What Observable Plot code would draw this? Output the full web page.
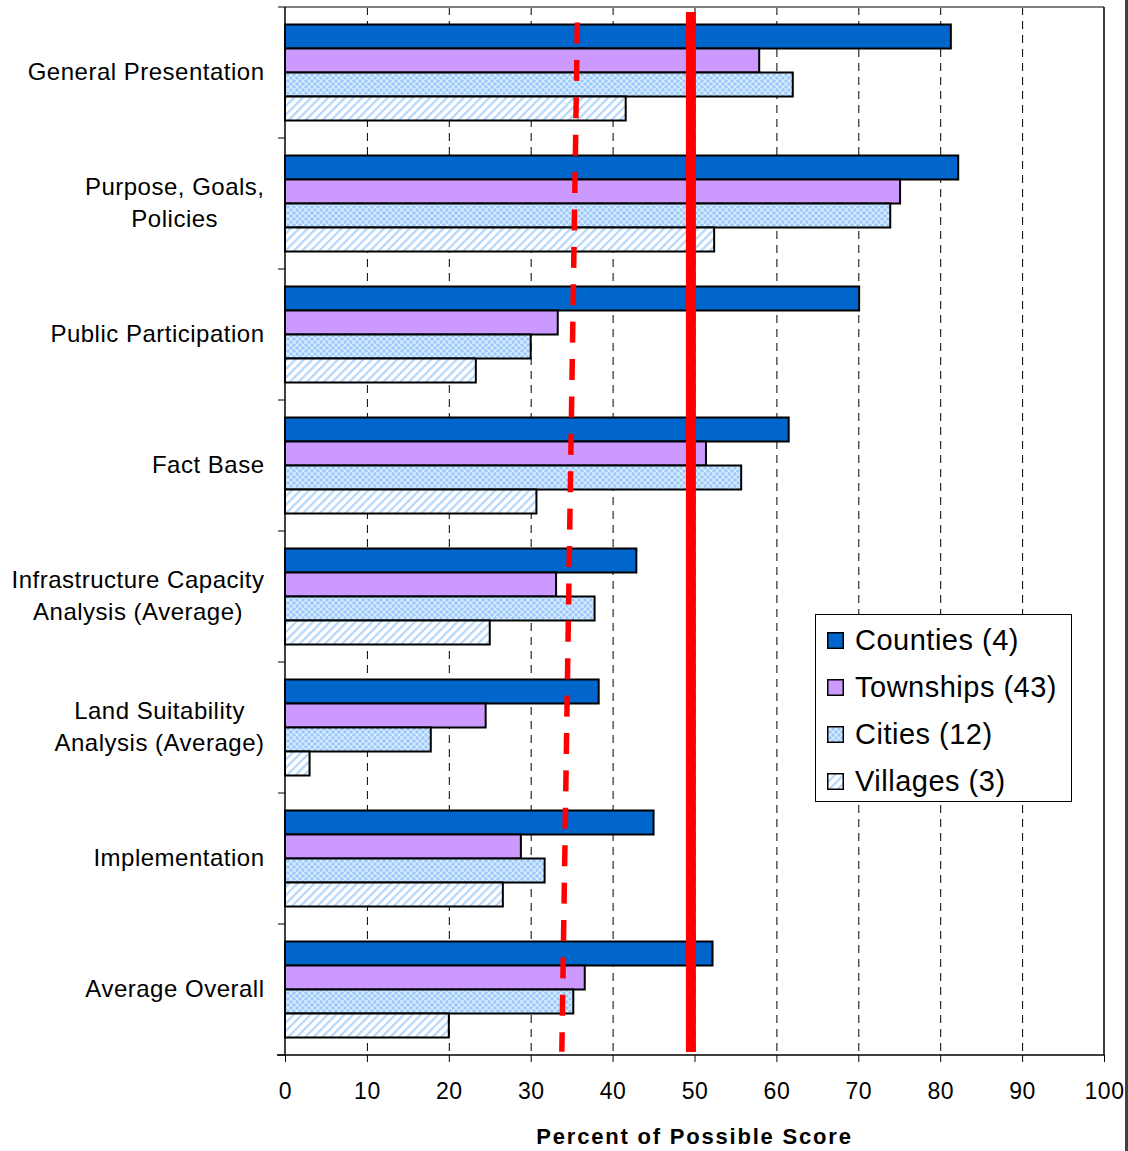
<!DOCTYPE html>
<html>
<head>
<meta charset="utf-8">
<script src="https://cdn.jsdelivr.net/npm/d3@7"></script>
<script src="https://cdn.jsdelivr.net/npm/@observablehq/plot@0.6"></script>
<style>
  body { margin: 0; background: #fff; }
  #wrap { position: relative; width: 1128px; height: 1151px; overflow: hidden; font-family: "Liberation Sans", Arial, sans-serif; color: #000; }
  #chart svg text { letter-spacing: 0.5px; }
  #xtitle { position: absolute; left: 285px; width: 819px; top: 1122px; text-align: center; font-weight: bold; font-size: 22px; letter-spacing: 1.8px; line-height: 30px; }
  #legend { position: absolute; left: 815px; top: 614px; width: 255px; height: 186px; border: 1px solid #000; background: #fff; }
  .item { position: absolute; left: 11px; height: 30px; display: flex; align-items: center; font-size: 29px; letter-spacing: 0.5px; white-space: nowrap; }
  .item svg { margin-right: 11px; flex: none; }
  #edge { position: absolute; left: 1125px; top: 0; width: 3px; height: 1151px; background: #404040; }
</style>
</head>
<body>
<svg width="0" height="0" style="position:absolute">
  <defs>
    <pattern id="pCities" width="6" height="6" patternUnits="userSpaceOnUse">
      <rect width="6" height="6" fill="#9ccafc"></rect>
      <path d="M0,0L6,6M6,0L0,6" stroke="#ffffff" stroke-width="1.1" stroke-opacity="0.7"></path>
    </pattern>
    <pattern id="pVillages" width="6" height="6" patternUnits="userSpaceOnUse" patternTransform="rotate(45)">
      <rect width="6" height="6" fill="#ffffff"></rect>
      <rect width="2.2" height="6" fill="#b3d6fb"></rect>
    </pattern>
  </defs>
</svg>
<div id="wrap">
  <div id="chart"></div>
  <div id="xtitle">Percent of Possible Score</div>
  <div id="legend"></div>
  <div id="edge"></div>
</div>
<script>
// ---- data ----
const categories = [
  "General Presentation",
  "Purpose, Goals,\nPolicies",
  "Public Participation",
  "Fact Base",
  "Infrastructure Capacity\nAnalysis (Average)",
  "Land Suitability\nAnalysis (Average)",
  "Implementation",
  "Average Overall"
];
const seriesNames = ["Counties (4)", "Townships (43)", "Cities (12)", "Villages (3)"];
const counties  = [81.3, 82.2, 70.1, 61.5, 42.9, 38.3, 45.0, 52.2];
const townships = [57.9, 75.1, 33.3, 51.4, 33.1, 24.5, 28.8, 36.6];
const cities    = [62.0, 73.9, 30.0, 55.7, 37.8, 17.8, 31.7, 35.2];
const villages  = [41.6, 52.4, 23.3, 30.7, 25.0, 3.0, 26.6, 20.0];
const xTicks = [0, 10, 20, 30, 40, 50, 60, 70, 80, 90, 100];
const gridTicks = [10, 20, 30, 40, 50, 60, 70, 80, 90];
const solidRef = 49.5;          // solid red line
const dashedRef = [35.7, 33.8]; // dashed red line: value at top, value at bottom
const seriesFills = ["#0066CC", "#CC99FF", "url(#pCities)", "url(#pVillages)"];

// ---- layout ----
const W = 1128, H = 1151;
const mt = 7, mb = 96, ml = 285, mr = 24;
const band = (H - mt - mb) / categories.length;
const barH = 24;
const pad = (band - seriesNames.length * barH) / 2;

const seriesValues = [counties, townships, cities, villages];
const rows = categories.flatMap((c, i) => seriesNames.map((s, j) => ({category: c, series: s, j, value: seriesValues[j][i]})));

function frameLines(index, scales, values, dims) {
  const {width, height, marginTop, marginRight, marginBottom, marginLeft} = dims;
  const x0 = marginLeft, x1 = width - marginRight, y0 = marginTop, y1 = height - marginBottom;
  const g = d3.create("svg:g");
  g.append("line").attr("x1", x0).attr("x2", x1).attr("y1", y0).attr("y2", y0).attr("stroke", "#808080").attr("stroke-width", 2);
  g.append("line").attr("x1", x1).attr("x2", x1).attr("y1", y0).attr("y2", y1).attr("stroke", "#000").attr("stroke-width", 1.5);
  g.append("line").attr("x1", x0).attr("x2", x0).attr("y1", y0).attr("y2", y1).attr("stroke", "#000").attr("stroke-width", 1.5);
  g.append("line").attr("x1", x0 - 8).attr("x2", x1).attr("y1", y1).attr("y2", y1).attr("stroke", "#000").attr("stroke-width", 1.5);
  const ys = categories.map(c => scales.y(c)).concat([y1]);
  for (const y of ys) {
    g.append("line").attr("x1", x0 - 7).attr("x2", x0).attr("y1", y).attr("y2", y).attr("stroke", "#000").attr("stroke-width", 1);
  }
  return g.node();
}

function dashedLine(index, scales, values, dims) {
  const {height, marginTop, marginBottom} = dims;
  const g = d3.create("svg:g");
  g.append("line")
    .attr("x1", scales.x(dashedRef[0])).attr("y1", marginTop + 15.5)
    .attr("x2", scales.x(dashedRef[1])).attr("y2", height - marginBottom - 3.3)
    .attr("stroke", "#FF0000").attr("stroke-width", 5.5)
    .attr("stroke-dasharray", "21,16.4");
  return g.node();
}

const plot = Plot.plot({
  width: W, height: H,
  marginTop: mt, marginBottom: mb, marginLeft: ml, marginRight: mr,
  style: {fontFamily: "'Liberation Sans', Arial, sans-serif", fontSize: "23px", background: "#fff", color: "#000", overflow: "visible"},
  x: {domain: [0, 100], ticks: xTicks, tickSize: 7, tickPadding: 20, tickFormat: d => String(d), label: null},
  y: {domain: categories, padding: 0, axis: null},
  marks: [
    Plot.ruleX(gridTicks, {stroke: "#000", strokeWidth: 1, strokeDasharray: "8,6"}),
    ...seriesNames.map((s, j) => Plot.barX(rows.filter(r => r.j === j), {
      x: "value", y: "category", fill: seriesFills[j], stroke: "#000", strokeWidth: 2,
      insetTop: pad + j * barH, insetBottom: band - pad - (j + 1) * barH
    })),
    frameLines,
    Plot.text(categories, {y: d => d, text: d => d, frameAnchor: "left", dx: -21, dy: -3.5, textAnchor: "end", fontSize: 24, lineHeight: 1.36, fill: "#000"}),
    Plot.ruleX([solidRef], {stroke: "#FF0000", strokeWidth: 10, insetTop: 5, insetBottom: 3}),
    dashedLine
  ]
});
document.getElementById("chart").appendChild(plot);

// center the lines of multi-line category labels (block stays right-aligned)
plot.querySelectorAll("text").forEach(t => {
  const spans = t.querySelectorAll("tspan");
  if (spans.length > 1) {
    let w = 0;
    spans.forEach(s => { w = Math.max(w, s.getComputedTextLength()); });
    t.setAttribute("text-anchor", "middle");
    spans.forEach(s => s.setAttribute("x", -w / 2));
  }
});

// legend
const legend = document.getElementById("legend");
seriesNames.forEach((name, j) => {
  const item = document.createElement("div");
  item.className = "item";
  item.style.top = (10 + 47 * j) + "px";
  item.innerHTML = `<svg width="17" height="17"><rect x="0.75" y="0.75" width="15.5" height="15.5" fill="${seriesFills[j]}" stroke="#000" stroke-width="1.5"></rect></svg><span>${name}</span>`;
  legend.appendChild(item);
});
</script>
</body>
</html>
